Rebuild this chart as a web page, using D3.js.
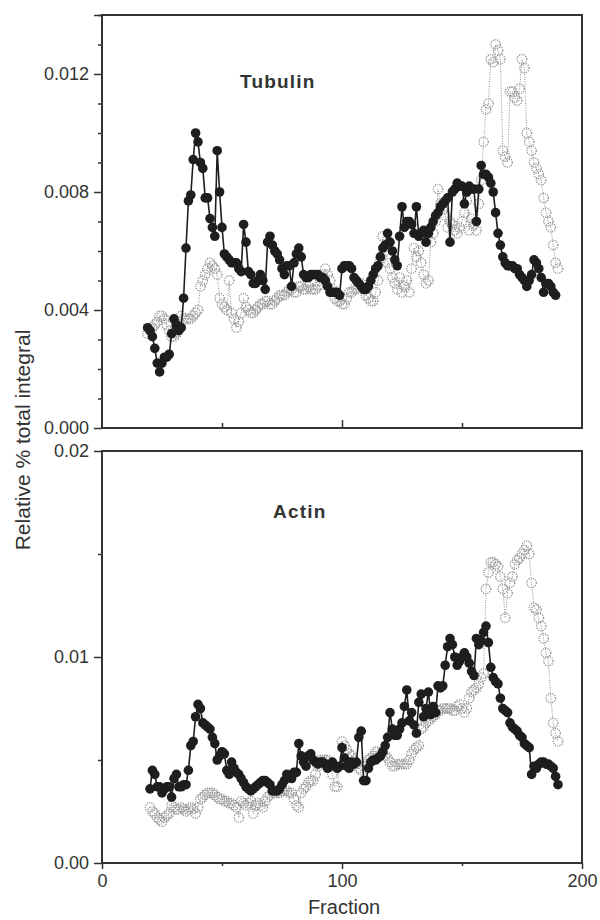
<!DOCTYPE html>
<html lang="en">
<head>
<meta charset="UTF-8">
<title>Tubulin / Actin fractions</title>
<script src="https://cdn.jsdelivr.net/npm/d3@7"></script>
<style>
  body { margin: 0; background: #fff; }
  text { font-family: "Liberation Sans", Arial, Helvetica, sans-serif; fill: #333; }
</style>
</head>
<body>
<div id="chart"></div>
<script>
// fraction where each series starts (one point per fraction)
const tubulinStart = 19;
const actinStart = 20;

// Tubulin, solid black series (fractions 19..189)
const tubulinBlack = [
  .0034,.0033,.0031,.0027,.0022,.0019,.0022,.0024,.0024,.0025,
  .0032,.0037,.0035,.0033,.0034,.0044,.0061,.0077,.0079,.0091,
  .0100,.0097,.0090,.0088,.0078,.0078,.0071,.0068,.0065,.0094,
  .0080,.0068,.0059,.0058,.0057,.0056,.0056,.0056,.0054,.0053,
  .0069,.0063,.0053,.0052,.0049,.0049,.0050,.0052,.0050,.0047,
  .0063,.0065,.0062,.0060,.0059,.0057,.0054,.0052,.0055,.0055,
  .0048,.0056,.0059,.0061,.0058,.0052,.0051,.0051,.0052,.0052,
  .0052,.0052,.0051,.0051,.0050,.0048,.0046,.0046,.0046,.0046,
  .0045,.0054,.0055,.0055,.0055,.0054,.0051,.0050,.0049,.0048,
  .0047,.0047,.0048,.0050,.0052,.0054,.0055,.0058,.0061,.0062,
  .0066,.0063,.0060,.0057,.0055,.0065,.0075,.0068,.0070,.0070,
  .0069,.0066,.0075,.0065,.0066,.0067,.0063,.0066,.0068,.0070,
  .0072,.0073,.0075,.0076,.0077,.0078,.0063,.0080,.0081,.0083,
  .0082,.0082,.0076,.0080,.0082,.0081,.0081,.0070,.0081,.0089,
  .0086,.0086,.0085,.0083,.0080,.0073,.0066,.0062,.0058,.0056,
  .0055,.0055,.0055,.0054,.0054,.0052,.0051,.0050,.0048,.0050,
  .0052,.0057,.0056,.0054,.0051,.0046,.0049,.0049,.0048,.0046,
  .0045
];

// Tubulin, dotted grey series (fractions 19..190)
const tubulinGrey = [
  .0032,.0033,.0034,.0035,.0036,.0038,.0038,.0037,.0035,.0033,
  .0031,.0031,.0032,.0034,.0038,.0037,.0037,.0037,.0037,.0038,
  .0039,.0040,.0048,.0050,.0052,.0054,.0056,.0055,.0054,.0052,
  .0044,.0042,.0041,.0040,.0050,.0039,.0037,.0034,.0036,.0039,
  .0044,.0041,.0040,.0039,.0039,.0040,.0041,.0042,.0042,.0043,
  .0043,.0042,.0042,.0043,.0044,.0045,.0045,.0045,.0046,.0047,
  .0047,.0046,.0046,.0048,.0048,.0047,.0047,.0048,.0047,.0047,
  .0047,.0048,.0050,.0052,.0054,.0052,.0050,.0047,.0044,.0043,
  .0043,.0042,.0042,.0044,.0046,.0046,.0047,.0047,.0048,.0049,
  .0047,.0045,.0044,.0043,.0043,.0046,.0050,.0057,.0065,.0060,
  .0056,.0054,.0051,.0049,.0047,.0051,.0046,.0048,.0050,.0046,
  .0054,.0061,.0058,.0060,.0056,.0052,.0049,.0050,.0063,.0066,
  .0070,.0081,.0076,.0074,.0072,.0068,.0070,.0069,.0067,.0066,
  .0068,.0070,.0073,.0077,.0067,.0071,.0069,.0067,.0076,.0084,
  .0097,.0108,.0110,.0125,.0124,.0130,.0128,.0125,.0094,.0092,
  .0090,.0114,.0114,.0112,.0111,.0115,.0125,.0122,.0100,.0097,
  .0094,.0090,.0088,.0086,.0084,.0078,.0073,.0070,.0068,.0062,
  .0056,.0054
];

// Actin, solid black series (fractions 20..190)
const actinBlack = [
  .0036,.0045,.0043,.0037,.0037,.0034,.0036,.0037,.0037,.0032,
  .0041,.0043,.0037,.0037,.0038,.0038,.0045,.0057,.0059,.0071,
  .0077,.0075,.0068,.0067,.0066,.0065,.0061,.0058,.0050,.0052,
  .0054,.0053,.0045,.0043,.0049,.0046,.0044,.0043,.0041,.0039,
  .0037,.0036,.0035,.0036,.0037,.0038,.0039,.0040,.0040,.0039,
  .0038,.0035,.0035,.0035,.0036,.0038,.0040,.0043,.0042,.0041,
  .0044,.0044,.0058,.0052,.0049,.0047,.0052,.0053,.0050,.0049,
  .0048,.0049,.0049,.0048,.0046,.0047,.0049,.0047,.0046,.0047,
  .0056,.0051,.0047,.0046,.0049,.0048,.0049,.0061,.0064,.0040,
  .0040,.0046,.0049,.0050,.0050,.0051,.0052,.0054,.0057,.0061,
  .0073,.0065,.0062,.0062,.0065,.0068,.0076,.0084,.0069,.0073,
  .0067,.0063,.0078,.0082,.0071,.0075,.0083,.0072,.0076,.0073,
  .0086,.0085,.0086,.0096,.0105,.0109,.0106,.0100,.0096,.0098,
  .0100,.0102,.0100,.0097,.0093,.0091,.0109,.0106,.0108,.0112,
  .0115,.0107,.0095,.0090,.0088,.0087,.0080,.0075,.0074,.0073,
  .0068,.0066,.0065,.0064,.0062,.0061,.0058,.0057,.0056,.0043,
  .0047,.0046,.0048,.0049,.0049,.0048,.0048,.0047,.0046,.0042,
  .0038
];

// Actin, dotted grey series (fractions 20..190)
const actinGrey = [
  .0027,.0025,.0024,.0022,.0021,.0020,.0022,.0023,.0024,.0028,
  .0027,.0026,.0026,.0027,.0026,.0025,.0026,.0027,.0026,.0024,
  .0027,.0031,.0032,.0033,.0034,.0034,.0034,.0033,.0032,.0031,
  .0031,.0030,.0030,.0029,.0029,.0028,.0027,.0022,.0030,.0029,
  .0028,.0029,.0030,.0024,.0028,.0029,.0028,.0027,.0030,.0032,
  .0033,.0034,.0034,.0034,.0034,.0035,.0035,.0035,.0034,.0034,
  .0031,.0028,.0027,.0034,.0036,.0037,.0039,.0040,.0040,.0043,
  .0047,.0050,.0050,.0050,.0050,.0047,.0043,.0037,.0037,.0047,
  .0059,.0057,.0055,.0053,.0052,.0050,.0048,.0046,.0045,.0047,
  .0048,.0050,.0051,.0052,.0054,.0054,.0053,.0053,.0052,.0051,
  .0049,.0047,.0047,.0048,.0048,.0048,.0048,.0048,.0050,.0053,
  .0055,.0056,.0057,.0065,.0066,.0068,.0069,.0070,.0071,.0072,
  .0074,.0074,.0075,.0075,.0075,.0075,.0074,.0074,.0076,.0077,
  .0075,.0073,.0075,.0080,.0083,.0084,.0085,.0087,.0090,.0092,
  .0133,.0141,.0146,.0146,.0145,.0144,.0139,.0133,.0119,.0131,
  .0136,.0139,.0145,.0147,.0148,.0150,.0152,.0154,.0150,.0136,
  .0124,.0123,.0119,.0115,.0109,.0102,.0098,.0080,.0068,.0063,
  .0059
];

const xTicks = [0, 100, 200];
const xMinor = [50, 150];
const tubulinTicks = [0, 0.004, 0.008, 0.012];
const tubulinMinor = [0.001, 0.002, 0.003, 0.005, 0.006, 0.007, 0.009, 0.010, 0.011, 0.013, 0.014];
const actinTicks = [0, 0.01, 0.02];
const actinMinor = [0.005, 0.015];

const width = 600, height = 920;
const svg = d3.select("#chart").append("svg")
    .attr("width", width)
    .attr("height", height);

svg.append("rect").attr("width", width).attr("height", height).attr("fill", "#fff");

const x = d3.scaleLinear().domain([0, 200]).range([102, 582]);

function toPoints(values, start) {
  return values.map((v, i) => ({ f: start + i, v }));
}

function drawPanel(cfg) {
  const y = d3.scaleLinear().domain(cfg.domain).range([cfg.bottom, cfg.top]);
  const g = svg.append("g");

  // left axis: labelled ticks + short minor ticks
  const left = g.append("g").attr("transform", `translate(${x(0)},0)`);
  left.append("g")
      .call(d3.axisLeft(y).tickValues(cfg.ticks).tickSize(8).tickPadding(5).tickFormat(d3.format(cfg.fmt)))
      .call(a => a.select(".domain").remove());
  left.append("g")
      .call(d3.axisLeft(y).tickValues(cfg.minor).tickSize(4).tickFormat(""))
      .call(a => a.select(".domain").remove());

  // bottom axis
  const bot = g.append("g").attr("transform", `translate(0,${cfg.bottom})`);
  if (cfg.labels) {
    bot.append("g")
        .call(d3.axisBottom(x).tickValues(xTicks).tickSize(6).tickPadding(5))
        .call(a => a.select(".domain").remove());
    bot.append("g")
        .call(d3.axisBottom(x).tickValues(xMinor).tickSize(3).tickFormat(""))
        .call(a => a.select(".domain").remove());
  } else {
    bot.append("g")
        .call(d3.axisTop(x).tickValues([100]).tickSize(8).tickFormat(""))
        .call(a => a.select(".domain").remove());
    bot.append("g")
        .call(d3.axisTop(x).tickValues(xMinor).tickSize(5).tickFormat(""))
        .call(a => a.select(".domain").remove());
  }

  g.selectAll(".tick line").attr("stroke", "#333").attr("stroke-width", 1.5);
  g.selectAll(".tick text")
      .attr("font-family", "Liberation Sans, Arial, sans-serif")
      .attr("font-size", 18)
      .attr("fill", "#333");

  // frame
  g.append("rect")
      .attr("x", x(0)).attr("y", cfg.top)
      .attr("width", x(200) - x(0)).attr("height", cfg.bottom - cfg.top)
      .attr("fill", "none").attr("stroke", "#333").attr("stroke-width", 2);

  const line = d3.line().x(d => x(d.f)).y(d => y(d.v));

  // grey series (behind)
  const grey = toPoints(cfg.grey, cfg.start);
  g.append("path").datum(grey)
      .attr("d", line)
      .attr("fill", "none")
      .attr("stroke", "#999")
      .attr("stroke-width", 1.1)
      .attr("stroke-dasharray", "1,1.4");
  g.append("g").selectAll("circle").data(grey).join("circle")
      .attr("cx", d => x(d.f)).attr("cy", d => y(d.v)).attr("r", 4.7)
      .attr("fill", "none")
      .attr("stroke", "#999")
      .attr("stroke-width", 1.4)
      .attr("stroke-dasharray", "1.2,1.1");

  // black series
  const black = toPoints(cfg.black, cfg.blackStart);
  g.append("path").datum(black)
      .attr("d", line)
      .attr("fill", "none")
      .attr("stroke", "#1e1e1e")
      .attr("stroke-width", 1.6);
  g.append("g").selectAll("circle").data(black).join("circle")
      .attr("cx", d => x(d.f)).attr("cy", d => y(d.v)).attr("r", 4.8)
      .attr("fill", "#1e1e1e");

  g.append("text")
      .attr("x", cfg.titleX).attr("y", cfg.titleY)
      .attr("font-size", 19).attr("font-weight", "bold")
      .attr("letter-spacing", 1.2)
      .text(cfg.title);
}

drawPanel({
  top: 15, bottom: 428, domain: [0, 0.014],
  ticks: tubulinTicks.concat([0.014]), minor: tubulinMinor,
  fmt: ".3f", labels: false,
  grey: tubulinGrey, black: tubulinBlack, start: tubulinStart, blackStart: tubulinStart,
  title: "Tubulin", titleX: 240, titleY: 88
});

drawPanel({
  top: 451, bottom: 863, domain: [0, 0.02],
  ticks: actinTicks, minor: actinMinor,
  fmt: ".2f", labels: true,
  grey: actinGrey, black: actinBlack, start: actinStart, blackStart: actinStart,
  title: "Actin", titleX: 273, titleY: 518
});

// drop the label of the unlabelled 0.014 tick
svg.selectAll(".tick text").filter(d => d === 0.014).remove();

svg.append("text")
    .attr("x", 344).attr("y", 914)
    .attr("text-anchor", "middle")
    .attr("font-size", 20)
    .text("Fraction");

svg.append("text")
    .attr("transform", "translate(30,440) rotate(-90)")
    .attr("text-anchor", "middle")
    .attr("font-size", 21)
    .text("Relative % total integral");
</script>
</body>
</html>
